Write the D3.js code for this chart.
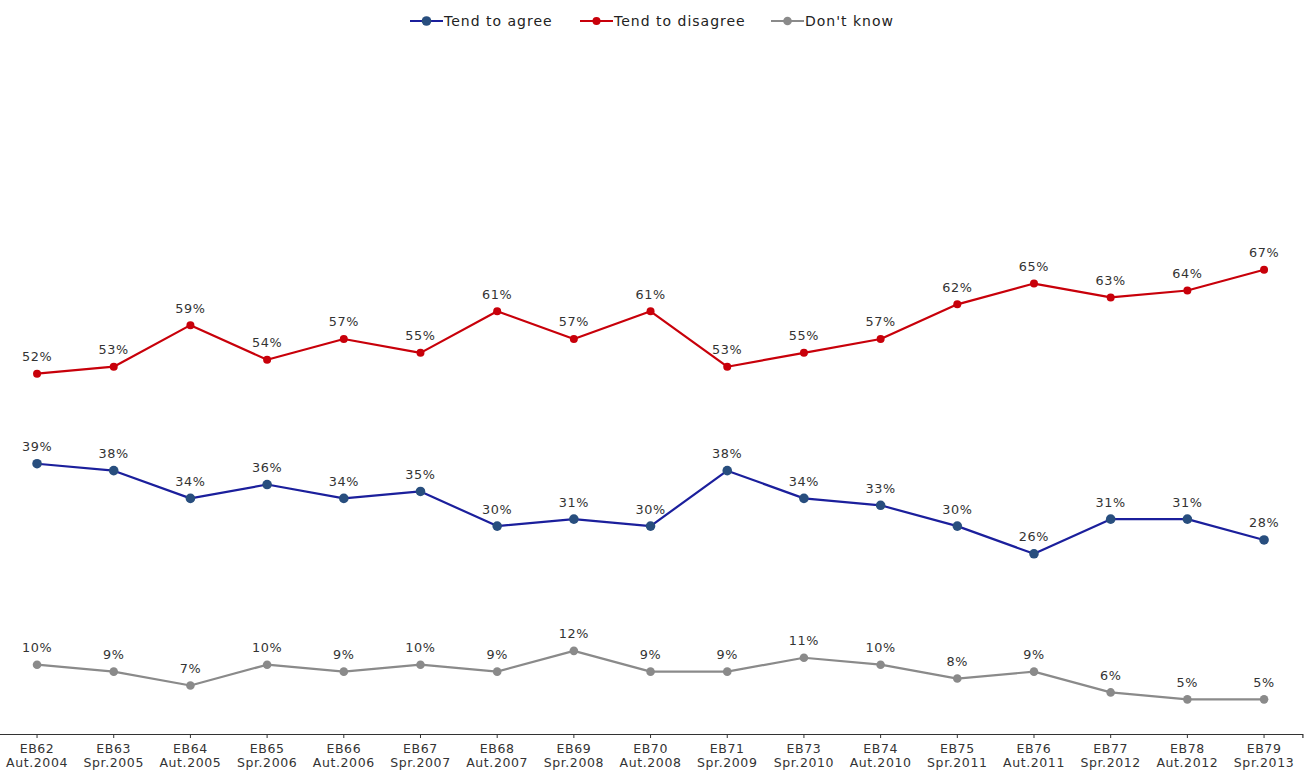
<!DOCTYPE html>
<html>
<head>
<meta charset="utf-8">
<script src="https://cdn.jsdelivr.net/npm/d3@7"></script>
<style>
  html, body { margin: 0; padding: 0; background: #fff; }
  svg { display: block; font-family: "DejaVu Sans", Verdana, sans-serif; }
</style>
</head>
<body>
<svg id="chart" width="1304" height="771"></svg>
<script>
// Survey waves
const waves = ["EB62", "EB63", "EB64", "EB65", "EB66", "EB67", "EB68", "EB69", "EB70",
               "EB71", "EB73", "EB74", "EB75", "EB76", "EB77", "EB78", "EB79"];
const periods = ["Aut.2004", "Spr.2005", "Aut.2005", "Spr.2006", "Aut.2006", "Spr.2007",
                 "Aut.2007", "Spr.2008", "Aut.2008", "Spr.2009", "Spr.2010", "Aut.2010",
                 "Spr.2011", "Aut.2011", "Spr.2012", "Aut.2012", "Spr.2013"];

// Answers, in percent
const tendToAgree    = [39, 38, 34, 36, 34, 35, 30, 31, 30, 38, 34, 33, 30, 26, 31, 31, 28];
const tendToDisagree = [52, 53, 59, 54, 57, 55, 61, 57, 61, 53, 55, 57, 62, 65, 63, 64, 67];
const dontKnow       = [10,  9,  7, 10,  9, 10,  9, 12,  9,  9, 11, 10,  8,  9,  6,  5,  5];

const seriesNames = ["Tend to agree", "Tend to disagree", "Don't know"];

const series = [
  { name: seriesNames[0], values: tendToAgree,    line: "#1b1f9c", dot: "#284e7e", r: 4.8 },
  { name: seriesNames[1], values: tendToDisagree, line: "#c8000a", dot: "#c8000a", r: 4.0 },
  { name: seriesNames[2], values: dontKnow,       line: "#8a8a8a", dot: "#8a8a8a", r: 4.3 }
];

const svg = d3.select("#chart");

const x = d3.scaleBand().domain(waves).range([-1.3, 1302.4]);
const y = d3.scaleLinear().domain([0, 100]).range([734, 41]);
const cx = w => x(w) + x.bandwidth() / 2;

// Category axis
const axis = svg.append("g")
  .attr("transform", "translate(0,734)")
  .call(d3.axisBottom(x).tickSize(4).tickSizeOuter(4).tickFormat(""));
axis.select(".domain").attr("stroke", "#333").attr("stroke-width", 1.2);
axis.selectAll(".tick line").attr("stroke", "#333");

const labels = svg.append("g")
  .attr("font-size", 12.5)
  .attr("letter-spacing", 0.6)
  .attr("fill", "#333")
  .attr("text-anchor", "middle");
waves.forEach((w, i) => {
  const t = labels.append("text").attr("x", cx(w));
  t.append("tspan").attr("x", cx(w)).attr("y", 753).text(w);
  t.append("tspan").attr("x", cx(w)).attr("y", 767).text(periods[i]);
});

// Lines, markers and value labels
const line = d3.line()
  .x((d, i) => cx(waves[i]))
  .y(d => y(d));

series.forEach(s => {
  const g = svg.append("g");
  g.append("path")
    .datum(s.values)
    .attr("d", line)
    .attr("fill", "none")
    .attr("stroke", s.line)
    .attr("stroke-width", 2.2)
    .attr("stroke-linejoin", "round");
  g.selectAll("circle")
    .data(s.values)
    .join("circle")
    .attr("cx", (d, i) => cx(waves[i]))
    .attr("cy", d => y(d))
    .attr("r", s.r)
    .attr("fill", s.dot);
  g.selectAll("text")
    .data(s.values)
    .join("text")
    .attr("x", (d, i) => cx(waves[i]))
    .attr("y", d => y(d) - 12.5)
    .attr("text-anchor", "middle")
    .attr("font-size", 12.8)
    .attr("letter-spacing", 0.6)
    .attr("fill", "#333")
    .text(d => d + "%");
});

// Legend
const legendItems = [
  { s: series[0], x0: 410 },
  { s: series[1], x0: 580 },
  { s: series[2], x0: 771 }
];
const legend = svg.append("g");
legendItems.forEach(({ s, x0 }) => {
  legend.append("line")
    .attr("x1", x0).attr("x2", x0 + 33)
    .attr("y1", 21).attr("y2", 21)
    .attr("stroke", s.line).attr("stroke-width", 2.2);
  legend.append("circle")
    .attr("cx", x0 + 16.5).attr("cy", 21).attr("r", s.r)
    .attr("fill", s.dot);
  legend.append("text")
    .attr("x", x0 + 34).attr("y", 26)
    .attr("font-size", 14)
    .attr("letter-spacing", 1)
    .attr("fill", "#222")
    .text(s.name);
});
</script>
</body>
</html>
